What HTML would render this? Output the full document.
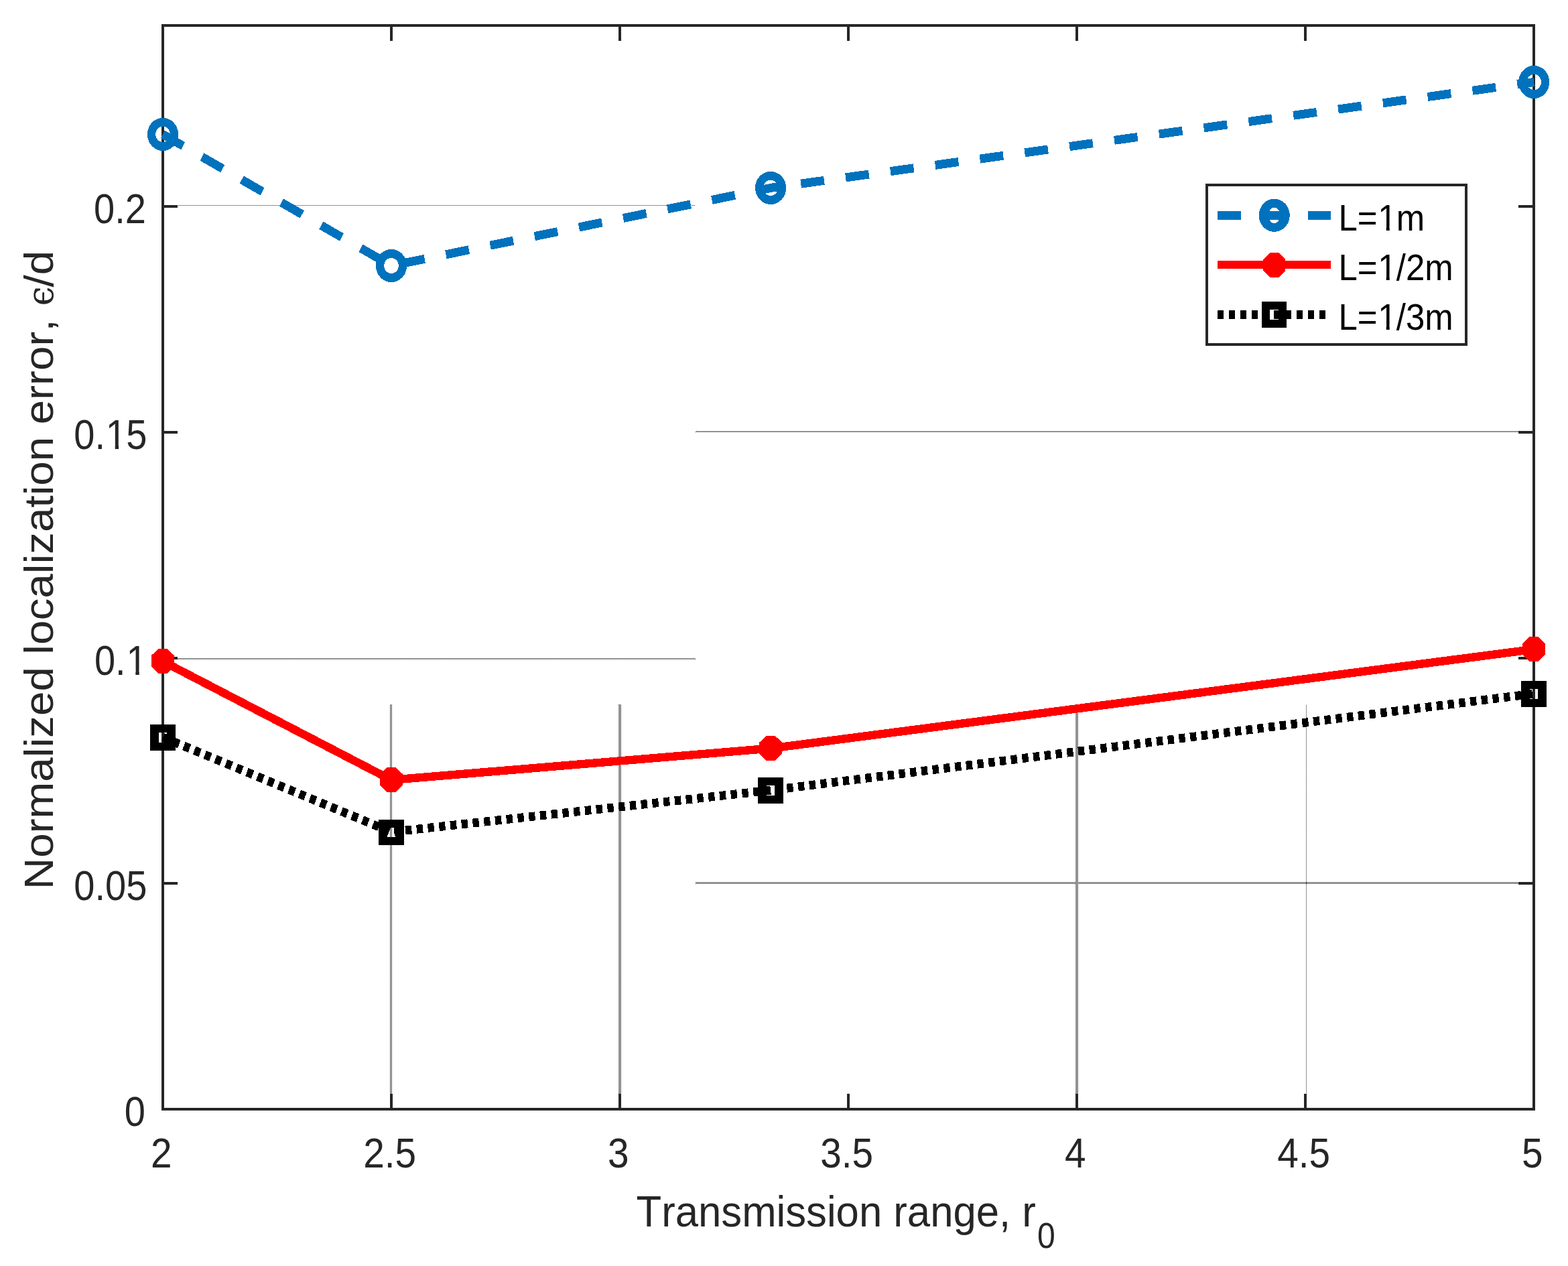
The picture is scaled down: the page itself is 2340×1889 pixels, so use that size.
<!DOCTYPE html>
<html lang="en"><head><meta charset="utf-8"><title>Normalized localization error vs transmission range</title>
<style>
html,body{margin:0;padding:0;background:#fff;}
body{width:2340px;height:1889px;overflow:hidden;}
svg{display:block;}
text{font-family:"Liberation Sans",Arial,Helvetica,sans-serif;font-kerning:none;white-space:pre;}
</style></head><body>
<svg width="2340" height="1889" viewBox="0 0 2340 1889">
<defs>
<pattern id="ck" patternUnits="userSpaceOnUse" x="0" y="0" width="2" height="2"><rect x="0" y="0" width="1" height="1" fill="#262626"/><rect x="1" y="1" width="1" height="1" fill="#262626"/></pattern>
<pattern id="dh" patternUnits="userSpaceOnUse" x="0" y="0" width="2" height="1"><rect x="0" y="0" width="1" height="1" fill="#262626"/></pattern>
<pattern id="dv" patternUnits="userSpaceOnUse" x="0" y="0" width="1" height="2"><rect x="0" y="0" width="1" height="1" fill="#262626"/></pattern>
</defs>
<rect x="0" y="0" width="2340" height="1889" fill="#fff"/>
<g shape-rendering="crispEdges">
<rect x="265" y="306" width="773" height="1" fill="url(#dh)"/>
<rect x="1038" y="643" width="1228" height="2" fill="url(#ck)"/>
<rect x="265" y="982" width="773" height="2" fill="url(#ck)"/>
<rect x="1038" y="1316" width="1228" height="3" fill="url(#ck)"/>
<rect x="582" y="1051" width="3" height="581" fill="url(#ck)"/>
<rect x="923" y="1051" width="4" height="581" fill="url(#ck)"/>
<rect x="1605" y="1053" width="4" height="579" fill="url(#ck)"/>
<rect x="1949" y="1051" width="1" height="581" fill="url(#dv)"/>
</g>
<g fill="#262626" shape-rendering="crispEdges">
<rect x="241" y="36" width="2050" height="4"/>
<rect x="241" y="1653" width="2050" height="4"/>
<rect x="241" y="36" width="4" height="1621"/>
<rect x="2287" y="36" width="4" height="1621"/>
<rect x="582" y="1632" width="4" height="21"/>
<rect x="582" y="40" width="4" height="21"/>
<rect x="923" y="1632" width="4" height="21"/>
<rect x="923" y="40" width="4" height="21"/>
<rect x="1264" y="1632" width="4" height="21"/>
<rect x="1264" y="40" width="4" height="21"/>
<rect x="1605" y="1632" width="4" height="21"/>
<rect x="1605" y="40" width="4" height="21"/>
<rect x="1946" y="1632" width="4" height="21"/>
<rect x="1946" y="40" width="4" height="21"/>
<rect x="245" y="1316" width="20" height="4"/>
<rect x="2266" y="1316" width="21" height="4"/>
<rect x="245" y="980" width="20" height="4"/>
<rect x="2266" y="980" width="21" height="4"/>
<rect x="245" y="643" width="20" height="4"/>
<rect x="2266" y="643" width="21" height="4"/>
<rect x="245" y="306" width="20" height="4"/>
<rect x="2266" y="306" width="21" height="4"/>
</g>
<g transform="translate(240.7 1741.9) scale(0.912 1)"><text x="-17.3" y="0" font-size="62.2" fill="#262626">2</text></g>
<g transform="translate(581.7 1741.9) scale(0.912 1)"><text x="-43.23 -8.64 8.64" y="0" font-size="62.2" fill="#262626">2.5</text></g>
<g transform="translate(922.7 1741.9) scale(0.912 1)"><text x="-17.3" y="0" font-size="62.2" fill="#262626">3</text></g>
<g transform="translate(1263.7 1741.9) scale(0.912 1)"><text x="-43.23 -8.64 8.64" y="0" font-size="62.2" fill="#262626">3.5</text></g>
<g transform="translate(1604.7 1741.9) scale(0.912 1)"><text x="-17.3" y="0" font-size="62.2" fill="#262626">4</text></g>
<g transform="translate(1945.7 1741.9) scale(0.912 1)"><text x="-43.23 -8.64 8.64" y="0" font-size="62.2" fill="#262626">4.5</text></g>
<g transform="translate(2286.7 1741.9) scale(0.912 1)"><text x="-17.3" y="0" font-size="62.2" fill="#262626">5</text></g>
<g transform="translate(216.8 1679.7) scale(0.9 1)"><text x="-34.59" y="0" font-size="62.2" fill="#262626">0</text></g>
<g transform="translate(219.3 1342.7) scale(0.9 1)"><text x="-121.06 -86.47 -69.19 -34.59" y="0" font-size="62.2" fill="#262626">0.05</text></g>
<g transform="translate(218.8 1006.7) scale(0.9 1)"><text x="-86.47 -51.87 -33.68" y="0" font-size="62.2" fill="#262626">0.1</text><rect x="-30.13" y="-6.65" width="11.84" height="8.15" fill="#fff"/><rect x="-12.29" y="-6.65" width="11.6" height="8.15" fill="#fff"/></g>
<g transform="translate(219.3 669.7) scale(0.9 1)"><text x="-121.06 -86.47 -68.27 -34.59" y="0" font-size="62.2" fill="#262626">0.15</text><rect x="-64.72" y="-6.65" width="11.84" height="8.15" fill="#fff"/><rect x="-46.89" y="-6.65" width="11.6" height="8.15" fill="#fff"/></g>
<g transform="translate(217.9 332.7) scale(0.9 1)"><text x="-86.47 -51.87 -34.59" y="0" font-size="62.2" fill="#262626">0.2</text></g>
<g transform="translate(949.6 1829.8) scale(0.9486 1)"><text x="0 39.7 61.35 97.5 133.65 166.15 220.3 234.74 267.24 299.74 314.18 350.33 386.48 404.54 426.18 462.33 498.48 534.63 570.78 588.84 606.9" y="0" font-size="65" fill="#262626">Transmission range, r</text></g>
<g transform="translate(1548 1861.7) scale(0.899 1)"><text x="0" y="0" font-size="53.5" fill="#262626">0</text></g>
<g transform="translate(79 1327.3) rotate(-90) scale(1.011 0.941)"><text x="0 46.94 83.09 104.74 158.88 195.03 209.47 223.91 256.41 292.56 328.71 346.77 361.21 397.36 429.86 466.01 480.45 494.9 527.4 563.54 581.6 596.04 632.19 668.34 686.4 722.55 744.2 765.84 801.99 823.64" y="0" font-size="65" fill="#262626">Normalized localization error,</text></g>
<text transform="translate(79 456.3) rotate(-90) scale(0.91 0.943)" font-size="56.8" fill="#262626" style="font-family:'DejaVu Serif','Liberation Serif',serif">ϵ</text>
<g transform="translate(79 428.6) rotate(-90) scale(1.011 0.941)"><text x="0 18.06" y="0" font-size="65" fill="#262626">/d</text></g>
<g transform="scale(0.943 1)" fill="none" stroke-linejoin="miter" shape-rendering="crispEdges">
<polyline points="257.69,200.4 619.3,396.5 1219.62,280.4 2427.57,122.5" stroke="#0072BD" stroke-width="13" stroke-dasharray="37.2 34.26" stroke-dashoffset="0.9"/>
<polyline points="257.69,986.75 619.3,1163.75 1219.72,1116.65 2427.36,968.85" stroke="#FF0000" stroke-width="12.4"/>
<polyline points="257.69,1100.1 619.3,1241.4 1219.51,1179.2 2427.36,1035" stroke="#000000" stroke-width="13" stroke-dasharray="9.9 7.953"/>
</g>
<path fill="#0072BD" fill-rule="evenodd" shape-rendering="crispEdges" d="M219.9 200.4a23.1 24.6 0 1 0 46.2 0a23.1 24.6 0 1 0 -46.2 0zM232.2 200.4a10.8 11.6 0 1 0 21.6 0a10.8 11.6 0 1 0 -21.6 0z"/>
<path fill="#0072BD" fill-rule="evenodd" shape-rendering="crispEdges" d="M560.9 396.5a23.1 24.6 0 1 0 46.2 0a23.1 24.6 0 1 0 -46.2 0zM573.2 396.5a10.8 11.6 0 1 0 21.6 0a10.8 11.6 0 1 0 -21.6 0z"/>
<path fill="#0072BD" fill-rule="evenodd" shape-rendering="crispEdges" d="M1127 280.4a23.1 24.6 0 1 0 46.2 0a23.1 24.6 0 1 0 -46.2 0zM1139.3 280.4a10.8 11.6 0 1 0 21.6 0a10.8 11.6 0 1 0 -21.6 0z"/>
<path fill="#0072BD" fill-rule="evenodd" shape-rendering="crispEdges" d="M2266.1 122.5a23.1 24.6 0 1 0 46.2 0a23.1 24.6 0 1 0 -46.2 0zM2278.4 122.5a10.8 11.6 0 1 0 21.6 0a10.8 11.6 0 1 0 -21.6 0z"/>
<polygon fill="#FF0000" shape-rendering="crispEdges" points="236.7,967.8 249.3,967.8 260.1,978 260.1,994.8 249.3,1005 236.7,1005 225.9,994.8 225.9,978"/>
<polygon fill="#FF0000" shape-rendering="crispEdges" points="577.7,1144.8 590.3,1144.8 601.1,1155 601.1,1171.8 590.3,1182 577.7,1182 566.9,1171.8 566.9,1155"/>
<polygon fill="#FF0000" shape-rendering="crispEdges" points="1143.9,1097.7 1156.5,1097.7 1167.3,1107.9 1167.3,1124.7 1156.5,1134.9 1143.9,1134.9 1133.1,1124.7 1133.1,1107.9"/>
<polygon fill="#FF0000" shape-rendering="crispEdges" points="2282.7,949.9 2295.3,949.9 2306.1,960.1 2306.1,976.9 2295.3,987.1 2282.7,987.1 2271.9,976.9 2271.9,960.1"/>
<path fill="#000000" fill-rule="evenodd" shape-rendering="crispEdges" d="M224 1081H262V1120H224zM237 1093H249V1108H237z"/>
<path fill="#000000" fill-rule="evenodd" shape-rendering="crispEdges" d="M565 1223H603V1261H565zM578 1235H590V1249H578z"/>
<path fill="#000000" fill-rule="evenodd" shape-rendering="crispEdges" d="M1131 1160H1169V1199H1131zM1144 1172H1156V1187H1144z"/>
<path fill="#000000" fill-rule="evenodd" shape-rendering="crispEdges" d="M2270 1016H2308V1055H2270zM2283 1028H2295V1043H2283z"/>
<rect x="1801" y="276" width="387" height="238" fill="#fff" stroke="#262626" stroke-width="4" shape-rendering="crispEdges"/>
<g transform="scale(0.943 1)" fill="none" shape-rendering="crispEdges">
<line x1="1926.94" y1="321.5" x2="2106.04" y2="321.5" stroke="#0072BD" stroke-width="13" stroke-dasharray="37.2 34.26"/>
<line x1="1926.94" y1="395" x2="2106.04" y2="395" stroke="#FF0000" stroke-width="12.3"/>
<line x1="1926.94" y1="469.6" x2="2098.09" y2="469.6" stroke="#000000" stroke-width="13" stroke-dasharray="9.9 7.953"/>
</g>
<path fill="#0072BD" fill-rule="evenodd" shape-rendering="crispEdges" d="M1878.6 321.3a23.1 24.6 0 1 0 46.2 0a23.1 24.6 0 1 0 -46.2 0zM1893.1 321.3a8.6 11.7 0 1 0 17.2 0a8.6 11.7 0 1 0 -17.2 0z"/>
<polygon fill="#FF0000" shape-rendering="crispEdges" points="1895.5,377.1 1908.1,377.1 1918.3,387.3 1918.3,404.1 1908.1,414.3 1895.5,414.3 1885.3,404.1 1885.3,387.3"/>
<path fill="#000000" fill-rule="evenodd" shape-rendering="crispEdges" d="M1883 450H1920V489H1883zM1895 462H1908V477H1895z"/>
<g transform="translate(1997.4 344) scale(0.909 1)"><text x="0 31.14 64.67 94.99" y="0" font-size="56" fill="#000">L=1m</text><rect x="67.77" y="-6.18" width="10.73" height="7.68" fill="#fff"/><rect x="83.95" y="-6.18" width="10.54" height="7.68" fill="#fff"/></g>
<g transform="translate(1997.4 417.8) scale(0.909 1)"><text x="0 31.14 64.67 94.99 110.55 141.7" y="0" font-size="56" fill="#000">L=1/2m</text><rect x="67.77" y="-6.18" width="10.73" height="7.68" fill="#fff"/><rect x="83.95" y="-6.18" width="10.54" height="7.68" fill="#fff"/></g>
<g transform="translate(1997.4 492) scale(0.909 1)"><text x="0 31.14 64.67 94.99 110.55 141.7" y="0" font-size="56" fill="#000">L=1/3m</text><rect x="67.77" y="-6.18" width="10.73" height="7.68" fill="#fff"/><rect x="83.95" y="-6.18" width="10.54" height="7.68" fill="#fff"/></g>
</svg>
</body></html>
